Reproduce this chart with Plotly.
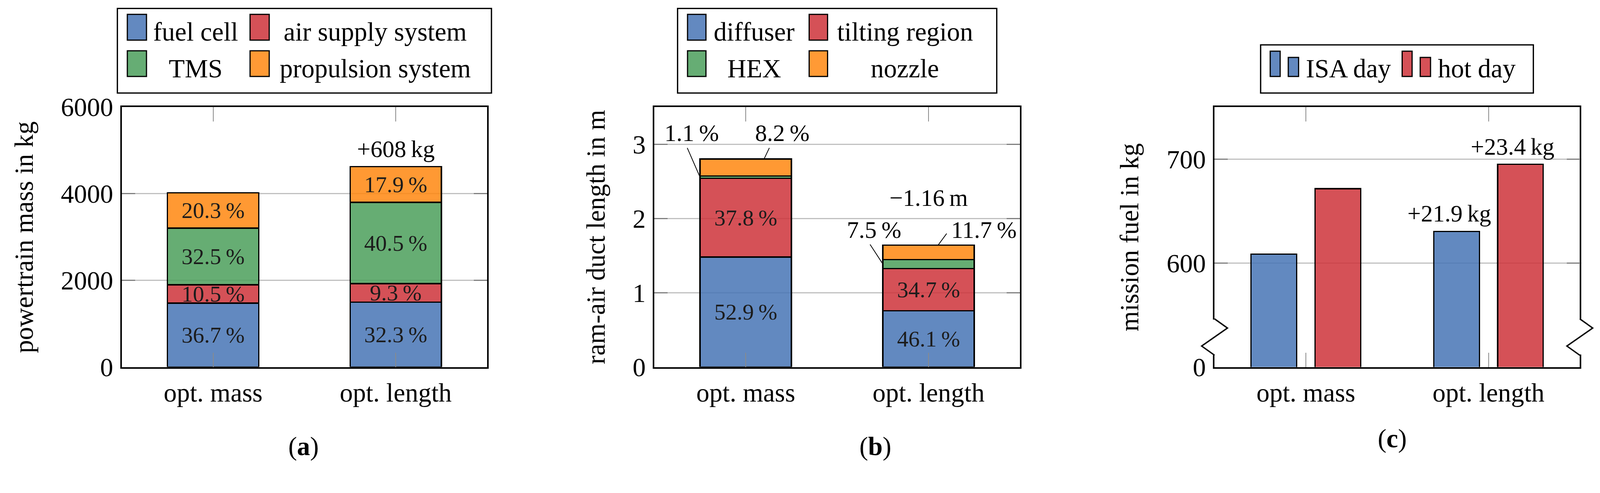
import plotly.graph_objects as go

# reference size in px; the page comes out about 6 % wider than css px,
# so the figure is laid out W*S wide and horizontal px sizes are scaled by S
W, H = 4336, 1262
S = 1 / 1.06
SHIFT = 44   # the photographed page sits this many px lower than the figure

categories = ["opt. mass", "opt. length"]

# (a) powertrain mass in kg, shares in percent of the total
mass_totals = [4020, 4628]
mass_parts = ["fuel cell", "air supply system", "TMS", "propulsion system"]
mass_shares = [[36.7, 32.3], [10.5, 9.3], [32.5, 40.5], [20.3, 17.9]]

# (b) ram-air duct length in m, shares in percent of the total
duct_totals = [2.80, 1.64]
duct_parts = ["diffuser", "tilting region", "HEX", "nozzle"]
duct_shares = [[52.9, 46.1], [37.8, 34.7], [1.1, 7.5], [8.2, 11.7]]

# (c) mission fuel in kg
fuel_cases = ["ISA day", "hot day"]
fuel_isa = [608.5, 630.4]
fuel_hot = [671.5, 694.9]

colors = ["rgba(71,116,181,0.85)", "rgba(206,50,57,0.85)",
          "rgba(75,159,91,0.85)", "rgba(255,135,15,0.85)"]
solid = ["#6389c0", "#d55157", "#66ad74", "#ff9a35"]

FONT = "Liberation Serif"
FS = 67      # axis / legend text
FS_S = 58    # percentages inside the bars
FS_M = 61    # callouts
LW = 3.3


def px(x):
    return x / W


def py(y):
    return 1 - y / H


fig = go.Figure()

# ---- (a) stacked masses ----
for i, part in enumerate(mass_parts):
    vals = [t * s / 100 for t, s in zip(mass_totals, mass_shares[i])]
    fig.add_trace(go.Bar(
        x=categories, y=vals, name=part, width=0.5,
        marker=dict(color=colors[i], line=dict(color="black", width=LW)),
        text=[f"{s:.1f}\u2009%" for s in mass_shares[i]],
        textposition="inside", insidetextanchor="middle", textangle=0,
        constraintext="none", textfont=dict(size=FS_S, color="#1c1c1c"),
        xaxis="x", yaxis="y", showlegend=False))

# ---- (b) stacked duct lengths ----
duct_inside = [True, True, False, False]
for i, part in enumerate(duct_parts):
    vals = [t * s / 100 for t, s in zip(duct_totals, duct_shares[i])]
    txt = [f"{s:.1f}\u2009%" if duct_inside[i] else "" for s in duct_shares[i]]
    fig.add_trace(go.Bar(
        x=categories, y=vals, name=part, width=0.5,
        marker=dict(color=colors[i], line=dict(color="black", width=LW)),
        text=txt, textposition="inside", insidetextanchor="middle", textangle=0,
        constraintext="none", textfont=dict(size=FS_S, color="#1c1c1c"),
        xaxis="x2", yaxis="y2", showlegend=False))

# ---- (c) grouped mission fuel ----
for vals, name, col, off in [(fuel_isa, fuel_cases[0], colors[0], -0.3),
                             (fuel_hot, fuel_cases[1], colors[1], 0.05)]:
    fig.add_trace(go.Bar(
        x=categories, y=vals, base=0, name=name, width=0.25, offset=off,
        marker=dict(color=col, line=dict(color="black", width=LW)),
        xaxis="x3", yaxis="y3", showlegend=False))

# ---- axes ----
ydom = [py(997), py(290)]
xdoms = [[px(322), px(1313)], [px(1767), px(2759)], [px(3287), px(4278)]]

xcommon = dict(type="category", range=[-0.5, 1.5], showline=True, linecolor="black",
               linewidth=3.5, mirror="ticks", ticks="inside", ticklen=37,
               tickwidth=2, tickcolor="#8a8a8a", showgrid=False,
               ticklabelstandoff=4, tickfont=dict(size=FS, color="black"))
ycommon = dict(showline=True, linecolor="black", linewidth=3.5, mirror="ticks",
               ticks="inside", ticklen=36 * S, tickwidth=2.5, tickcolor="#7f7f7f",
               showgrid=True, gridcolor="#c0c0c0", gridwidth=2.5, zeroline=False,
               ticklabelstandoff=5, tickfont=dict(size=FS, color="black"))

fig.update_layout(
    xaxis=dict(domain=xdoms[0], anchor="y", **xcommon),
    xaxis2=dict(domain=xdoms[1], anchor="y2", **xcommon),
    xaxis3=dict(domain=xdoms[2], anchor="y3", **xcommon),
    yaxis=dict(domain=ydom, anchor="x", range=[0, 6000],
               tickvals=[0, 2000, 4000, 6000], **ycommon),
    yaxis2=dict(domain=ydom, anchor="x2", range=[0, 3.5],
                tickvals=[0, 1, 2, 3], **ycommon),
    yaxis3=dict(domain=ydom, anchor="x3", range=[500, 750],
                tickvals=[500, 600, 700], ticktext=["0", "600", "700"], **ycommon),
)

ann = []
shapes = []


def note(x, y, t, size=FS, angle=0, xanchor="center"):
    ann.append(dict(x=px(x), y=py(y), xref="paper", yref="paper", text=t,
                    textangle=angle, xanchor=xanchor, yanchor="middle",
                    showarrow=False, font=dict(size=size)))


# y-axis titles and panel letters
note(56, 644, "powertrain mass in kg", angle=-90)
note(1608, 644, "ram-air duct length in m", angle=-90)
note(3056, 644, "mission fuel in kg", angle=-90)
note(815, 1213, "(<b>a</b>)")
note(2367, 1213, "(<b>b</b>)")
note(3769, 1191, "(<b>c</b>)")

# difference callouts
for x, y, ax, t in [
        (1, 5033, "", f"+{mass_totals[1] - mass_totals[0]:.0f}\u2009kg"),
        (1, 2.277, "2", f"\u2212{duct_totals[0] - duct_totals[1]:.2f}\u2009m"),
        (1 - 0.216, 647.5, "3", f"+{fuel_isa[1] - fuel_isa[0]:.1f}\u2009kg"),
        (1 + 0.131, 711.8, "3", f"+{fuel_hot[1] - fuel_hot[0]:.1f}\u2009kg")]:
    ann.append(dict(x=x, y=y, xref="x" + ax, yref="y" + ax, showarrow=False,
                    xanchor="center", yanchor="middle", text=t, font=dict(size=FS_M)))

# small duct segments: labels outside with leader lines
# (part, bar, label x, label y, line end x, line end y, bar-side x offset, 'mid'/'top')
callouts = [(2, 0, -0.296, 3.15, -0.32, 2.95, -0.25, "mid"),
            (3, 0, 0.20, 3.15, 0.129, 2.95, 0.10, "top"),
            (2, 1, -0.298, 1.846, -0.32, 1.65, -0.25, "mid"),
            (3, 1, 0.304, 1.846, 0.099, 1.797, 0.052, "top")]
for part, b, tx, ty, lx, ly, bx, where in callouts:
    seg = [duct_totals[b] * duct_shares[k][b] / 100 for k in range(len(duct_parts))]
    top = sum(seg[:part + 1])
    by = top if where == "top" else top - seg[part] / 2
    ann.append(dict(x=b + tx, y=ty, xref="x2", yref="y2", showarrow=False,
                    xanchor="center", yanchor="middle",
                    text=f"{duct_shares[part][b]:.1f}\u2009%", font=dict(size=FS_M)))
    shapes.append(dict(type="line", xref="x2", yref="y2", x0=b + bx, y0=by,
                       x1=b + lx, y1=ly, line=dict(color="black", width=2)))

# broken y-axis marks in (c)
for xa in [3287, 4278]:
    shapes.append(dict(type="rect", xref="paper", yref="paper", layer="above",
                       x0=px(xa - 6), x1=px(xa + 6), y0=py(963), y1=py(868),
                       fillcolor="white", line=dict(width=0)))
    shapes.append(dict(type="path", xref="paper", yref="paper", layer="above",
                       path=f"M {px(xa)} {py(866)} L {px(xa + 35)} {py(891)} "
                            f"L {px(xa - 35)} {py(940)} L {px(xa)} {py(965)}",
                       line=dict(color="black", width=3.5)))


# ---- hand-drawn legends ----
def box(x0, y0, x1, y1, fill="white", w=LW):
    shapes.append(dict(type="rect", xref="paper", yref="paper", layer="above",
                       x0=px(x0), x1=px(x1), y0=py(y1), y1=py(y0),
                       fillcolor=fill, line=dict(color="black", width=w)))


rows = [(38, 108, 107), (137, 207, 207)]

box(310, 22, 1325, 252)
for i, part in enumerate(mass_parts):
    r0, r1, base = rows[i // 2]
    sx = [337, 670][i % 2]
    box(sx, r0, sx + 52, r1, fill=solid[i], w=3)
    note([523, 1010][i % 2], base - 22, part)

box(1830, 22, 2696, 252)
for i, part in enumerate(duct_parts):
    r0, r1, base = rows[i // 2]
    sx = [1857, 2187][i % 2]
    box(sx, r0, sx + 50, r1, fill=solid[i], w=3)
    note([2038, 2447][i % 2], base - 22, part)

box(3412, 121, 4152, 252)
for i, name in enumerate(fuel_cases):
    sx = [3438, 3796][i]
    box(sx, 138, sx + 27, 207, fill=solid[i], w=3)
    box(sx + 49, 155, sx + 77, 207, fill=solid[i], w=3)
    note(sx + 95, 185, name, xanchor="left")

fig.update_layout(
    width=round(W * S), height=H, barmode="stack", showlegend=False,
    margin=dict(l=0, r=0, t=0, b=0),
    paper_bgcolor="white", plot_bgcolor="white",
    font=dict(family=FONT, size=FS, color="black"),
    annotations=ann, shapes=shapes,
)

# lift the graph div so the photographed page lines up with the figure
lift = ("var g = document.getElementById('{plot_id}');"
        "g.style.position = 'relative'; g.style.top = '-%dpx';" % SHIFT)

fig.write_html("out.html", post_script=lift)
